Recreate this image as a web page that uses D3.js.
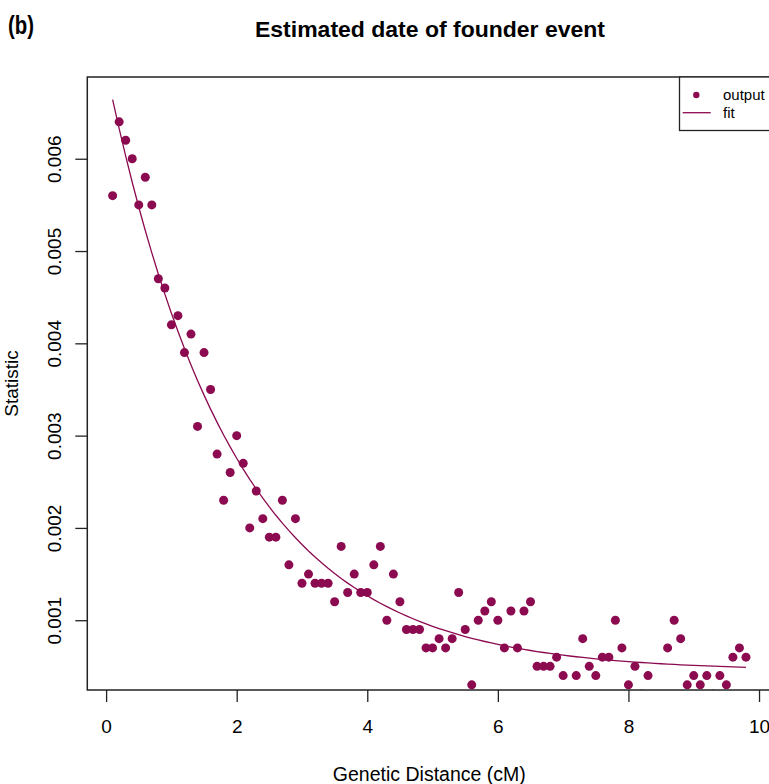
<!DOCTYPE html>
<html>
<head>
<meta charset="utf-8">
<script src="https://cdn.jsdelivr.net/npm/d3@7"></script>
<style>
  html, body { margin: 0; padding: 0; background: #fff; }
  svg { display: block; font-family: "Liberation Sans", Arial, Helvetica, sans-serif; }
</style>
</head>
<body>
<svg id="chart" width="769" height="784"></svg>
<script>
// Genetic distance bins (cM) and the statistic observed in each bin
const distance = [
  0.1, 0.2, 0.3, 0.4, 0.5, 0.6, 0.7, 0.8, 0.9, 1.0,
  1.1, 1.2, 1.3, 1.4, 1.5, 1.6, 1.7, 1.8, 1.9, 2.0,
  2.1, 2.2, 2.3, 2.4, 2.5, 2.6, 2.7, 2.8, 2.9, 3.0,
  3.1, 3.2, 3.3, 3.4, 3.5, 3.6, 3.7, 3.8, 3.9, 4.0,
  4.1, 4.2, 4.3, 4.4, 4.5, 4.6, 4.7, 4.8, 4.9, 5.0,
  5.1, 5.2, 5.3, 5.4, 5.5, 5.6, 5.7, 5.8, 5.9, 6.0,
  6.1, 6.2, 6.3, 6.4, 6.5, 6.6, 6.7, 6.8, 6.9, 7.0,
  7.1, 7.2, 7.3, 7.4, 7.5, 7.6, 7.7, 7.8, 7.9, 8.0,
  8.1, 8.2, 8.3, 8.4, 8.5, 8.6, 8.7, 8.8, 8.9, 9.0,
  9.1, 9.2, 9.3, 9.4, 9.5, 9.6, 9.7, 9.8
];
const statistic = [
  0.0056, 0.0064, 0.0062, 0.0060, 0.0055, 0.0058, 0.0055, 0.0047, 0.0046, 0.0042,
  0.0043, 0.0039, 0.0041, 0.0031, 0.0039, 0.0035, 0.0028, 0.0023, 0.0026, 0.0030,
  0.0027, 0.0020, 0.0024, 0.0021, 0.0019, 0.0019, 0.0023, 0.0016, 0.0021, 0.0014,
  0.0015, 0.0014, 0.0014, 0.0014, 0.0012, 0.0018, 0.0013, 0.0015, 0.0013, 0.0013,
  0.0016, 0.0018, 0.0010, 0.0015, 0.0012, 0.0009, 0.0009, 0.0009, 0.0007, 0.0007,
  0.0008, 0.0007, 0.0008, 0.0013, 0.0009, 0.0003, 0.0010, 0.0011, 0.0012, 0.0010,
  0.0007, 0.0011, 0.0007, 0.0011, 0.0012, 0.0005, 0.0005, 0.0005, 0.0006, 0.0004,
  0.0001, 0.0004, 0.0008, 0.0005, 0.0004, 0.0006, 0.0006, 0.0010, 0.0007, 0.0003,
  0.0005, 0.0002, 0.0004, 0.0001, 0.0001, 0.0007, 0.0010, 0.0008, 0.0003, 0.0004,
  0.0003, 0.0004, 0.0002, 0.0004, 0.0003, 0.0006, 0.0007, 0.0006
];

// Exponential decay fit: y = amplitude * exp(-rate * d) + offset
const fitAmplitude = 0.00652;
const fitRate = 0.52;
const fitOffset = 0.00045;

const xTicks = [0, 2, 4, 6, 8, 10];
const yTicks = [0.001, 0.002, 0.003, 0.004, 0.005, 0.006];

const color = "#8B0A50";

const fitAt = d => fitAmplitude * Math.exp(-fitRate * d) + fitOffset;
const fitX = d3.range(0, 98).map(i => distance[0] + i * (distance[distance.length - 1] - distance[0]) / 97);
const fitData = fitX.map(d => ({ x: d, y: fitAt(d) }));

// Axis ranges padded by 4% on each side
const xMin = d3.min(distance), xMax = d3.max(distance);
const xPad = (xMax - xMin) * 0.04;
const yLo = d3.min(fitData, d => d.y), yHi = d3.max(fitData, d => d.y);
const yPad = (yHi - yLo) * 0.04;

const plot = { left: 87.3, right: 771.3, top: 77, bottom: 690 };

const x = d3.scaleLinear().domain([xMin - xPad, xMax + xPad]).range([plot.left, plot.right]);
const y = d3.scaleLinear().domain([yLo - yPad, yHi + yPad]).range([plot.bottom, plot.top]);

const svg = d3.select("#chart");

svg.append("defs").append("clipPath").attr("id", "plotClip")
  .append("rect")
  .attr("x", plot.left).attr("y", plot.top)
  .attr("width", plot.right - plot.left).attr("height", plot.bottom - plot.top);

// Panel tag and title
svg.append("text").attr("x", 8).attr("y", 34)
  .attr("font-size", 25).attr("font-weight", "bold").attr("fill", "#000")
  .attr("textLength", 26).attr("lengthAdjust", "spacingAndGlyphs")
  .text("(b)");
svg.append("text").attr("x", 430).attr("y", 37)
  .attr("text-anchor", "middle").attr("font-size", 22).attr("font-weight", "bold").attr("fill", "#000")
  .attr("textLength", 350).attr("lengthAdjust", "spacingAndGlyphs")
  .text("Estimated date of founder event");

// X axis
const xAxis = svg.append("g")
  .attr("transform", `translate(0,${plot.bottom})`)
  .call(d3.axisBottom(x).tickValues(xTicks).tickSize(12).tickPadding(18).tickFormat(d3.format("d")));
xAxis.select(".domain").remove();
xAxis.selectAll(".tick line").attr("stroke", "#222").attr("stroke-width", 1.3);
xAxis.selectAll(".tick text").attr("font-size", 19).attr("font-family", null).attr("fill", "#000");

// Y axis with labels rotated parallel to the axis
const yAxis = svg.append("g")
  .attr("transform", `translate(${plot.left},0)`)
  .call(d3.axisLeft(y).tickValues(yTicks).tickSize(12).tickFormat(d3.format(".3f")));
yAxis.select(".domain").remove();
yAxis.selectAll(".tick line").attr("stroke", "#222").attr("stroke-width", 1.3);
yAxis.selectAll(".tick text")
  .attr("font-size", 19).attr("font-family", null).attr("fill", "#000")
  .attr("text-anchor", "middle")
  .attr("x", null).attr("dy", null)
  .attr("transform", "translate(-26,0) rotate(-90)");

// Axis titles
svg.append("text").attr("x", (plot.left + plot.right) / 2).attr("y", 781)
  .attr("text-anchor", "middle").attr("font-size", 19.5).attr("fill", "#000")
  .text("Genetic Distance (cM)");
svg.append("text")
  .attr("transform", `translate(18,${(plot.top + plot.bottom) / 2}) rotate(-90)`)
  .attr("text-anchor", "middle").attr("font-size", 19).attr("fill", "#000")
  .text("Statistic");

// Data points and fitted curve
const inner = svg.append("g").attr("clip-path", "url(#plotClip)");
inner.selectAll("circle.pt")
  .data(distance.map((d, i) => ({ x: d, y: statistic[i] })))
  .join("circle")
  .attr("class", "pt")
  .attr("cx", d => x(d.x)).attr("cy", d => y(d.y))
  .attr("r", 4.5).attr("fill", color);

inner.append("path")
  .datum(fitData)
  .attr("fill", "none").attr("stroke", color).attr("stroke-width", 1.3)
  .attr("d", d3.line().x(d => x(d.x)).y(d => y(d.y)));

// Plot frame
svg.append("rect")
  .attr("x", plot.left).attr("y", plot.top)
  .attr("width", plot.right - plot.left).attr("height", plot.bottom - plot.top)
  .attr("fill", "none").attr("stroke", "#222").attr("stroke-width", 1.5);

// Legend
const legend = svg.append("g");
legend.append("rect")
  .attr("x", 679.5).attr("y", plot.top).attr("width", 95).attr("height", 53.5)
  .attr("fill", "#fff").attr("stroke", "#222").attr("stroke-width", 1.3);
legend.append("circle").attr("cx", 696.3).attr("cy", 95).attr("r", 3.2).attr("fill", color);
legend.append("line").attr("x1", 682.7).attr("x2", 710.7).attr("y1", 112.7).attr("y2", 112.7)
  .attr("stroke", color).attr("stroke-width", 1.3);
legend.append("text").attr("x", 723).attr("y", 100).attr("font-size", 15).attr("fill", "#000").text("output");
legend.append("text").attr("x", 723).attr("y", 118).attr("font-size", 15).attr("fill", "#000").text("fit");
</script>
</body>
</html>
